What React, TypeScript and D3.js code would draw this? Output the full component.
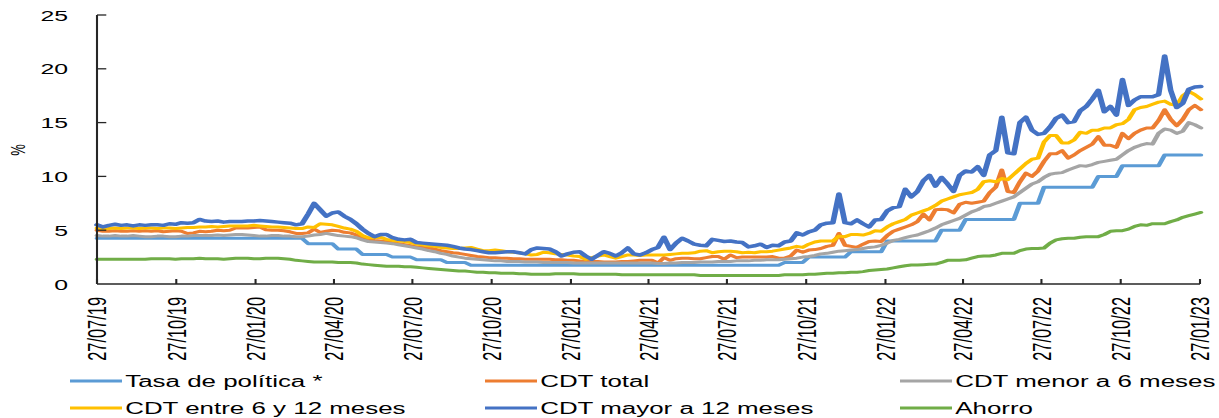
import React from 'react';
import * as d3 from 'd3';

// the source picture is stretched sideways, so we draw in a narrow box and stretch it
const S = 1.6;
const fullW = 1219;
const fullH = 418;
const vw = fullW / S;
const plot = { left: 97 / S, right: 1200 / S, top: 15, bottom: 284 };
const font = '"Liberation Sans", Arial, sans-serif';

const startDate = '27/07/19';
const xTickLabels = [
  '27/07/19', '27/10/19', '27/01/20', '27/04/20', '27/07/20', '27/10/20', '27/01/21', '27/04/21',
  '27/07/21', '27/10/21', '27/01/22', '27/04/22', '27/07/22', '27/10/22', '27/01/23',
];
const yTicks = [0, 5, 10, 15, 20, 25];

const tasaPolitica = [
  4.25, 4.25, 4.25, 4.25, 4.25, 4.25, 4.25, 4.25, 4.25, 4.25,
  4.25, 4.25, 4.25, 4.25, 4.25, 4.25, 4.25, 4.25, 4.25, 4.25,
  4.25, 4.25, 4.25, 4.25, 4.25, 4.25, 4.25, 4.25, 4.25, 4.25,
  4.25, 4.25, 4.25, 4.25, 4.25, 3.75, 3.75, 3.75, 3.75, 3.75,
  3.25, 3.25, 3.25, 3.25, 2.75, 2.75, 2.75, 2.75, 2.75, 2.5,
  2.5, 2.5, 2.5, 2.25, 2.25, 2.25, 2.25, 2.25, 2, 2,
  2, 2, 1.75, 1.75, 1.75, 1.75, 1.75, 1.75, 1.75, 1.75,
  1.75, 1.75, 1.75, 1.75, 1.75, 1.75, 1.75, 1.75, 1.75, 1.75,
  1.75, 1.75, 1.75, 1.75, 1.75, 1.75, 1.75, 1.75, 1.75, 1.75,
  1.75, 1.75, 1.75, 1.75, 1.75, 1.75, 1.75, 1.75, 1.75, 1.75,
  1.75, 1.75, 1.75, 1.75, 1.75, 1.75, 1.75, 1.75, 1.75, 1.75,
  1.75, 1.75, 1.75, 1.75, 2, 2, 2, 2, 2.5, 2.5,
  2.5, 2.5, 2.5, 2.5, 2.5, 3, 3, 3, 3, 3,
  3, 4, 4, 4, 4, 4, 4, 4, 4, 4,
  5, 5, 5, 5, 6, 6, 6, 6, 6, 6,
  6, 6, 6, 7.5, 7.5, 7.5, 7.5, 9, 9, 9,
  9, 9, 9, 9, 9, 9, 10, 10, 10, 10,
  11, 11, 11, 11, 11, 11, 11, 12, 12, 12,
  12, 12, 12, 12,
];

const cdtTotal = [
  5.0, 4.9, 4.9, 4.95, 4.9, 4.9, 4.95, 4.9, 4.95, 4.9,
  4.95, 4.85, 4.9, 4.95, 4.9, 4.7, 4.75, 4.9, 4.85, 4.9,
  5.0, 4.95, 5.0, 5.2, 5.2, 5.2, 5.25, 5.3, 5.05, 5.0,
  5.0, 4.95, 4.85, 4.7, 4.7, 4.75, 5.1, 4.8, 4.9, 5.0,
  4.95, 4.8, 4.75, 4.55, 4.3, 4.15, 4.05, 4.0, 3.95, 3.85,
  3.75, 3.65, 3.55, 3.45, 3.4, 3.35, 3.25, 3.1, 3.0, 2.9,
  2.85, 2.75, 2.65, 2.55, 2.5, 2.45, 2.45, 2.4, 2.4, 2.35,
  2.35, 2.3, 2.3, 2.3, 2.3, 2.3, 2.25, 2.25, 2.2, 2.2,
  2.15, 2.1, 2.1, 2.1, 2.05, 2.05, 2.05, 2.1, 2.1, 2.15,
  2.2, 2.2, 2.2, 1.95, 2.45, 2.2, 2.35, 2.4, 2.4, 2.35,
  2.35, 2.45, 2.55, 2.55, 2.3, 2.7, 2.45, 2.5, 2.5, 2.5,
  2.5, 2.5, 2.55, 2.4, 2.4, 2.6, 3.15, 2.95, 3.15, 3.2,
  3.3, 3.5, 3.6, 4.7, 3.6, 3.5, 3.4, 3.7, 3.95, 4.0,
  3.95, 4.5, 4.9, 5.1, 5.3, 5.5, 5.8, 6.5, 5.95, 6.9,
  6.95, 6.9, 6.6, 7.4, 7.6, 7.5, 7.6, 7.7, 8.5, 9.0,
  10.6, 8.6, 8.5, 9.5, 10.3, 10.0, 10.5, 11.4, 12.1, 12.1,
  12.4, 11.7, 12.0, 12.4, 12.7, 13.0, 13.7, 12.9, 12.9, 12.7,
  14.0, 13.5, 14.0, 14.3, 14.5, 14.5, 15.2, 16.2, 15.3, 14.7,
  15.3, 16.2, 16.6, 16.2,
];

const cdtMenor6 = [
  4.5, 4.45, 4.45, 4.5, 4.45, 4.45, 4.5, 4.45, 4.4, 4.4,
  4.45, 4.45, 4.4, 4.4, 4.45, 4.45, 4.5, 4.5, 4.5, 4.5,
  4.55, 4.5, 4.55, 4.6, 4.6, 4.55, 4.5, 4.45, 4.45, 4.5,
  4.5, 4.45, 4.45, 4.4, 4.4, 4.45, 4.55, 4.6, 4.7, 4.6,
  4.5, 4.45, 4.4, 4.3, 4.1, 3.95, 3.9, 3.85, 3.8, 3.75,
  3.65, 3.55, 3.45, 3.35, 3.25, 3.1, 3.0, 2.85, 2.75, 2.6,
  2.5, 2.4, 2.35, 2.3, 2.25, 2.2, 2.15, 2.15, 2.1, 2.1,
  2.1, 2.05, 2.05, 2.05, 2.0, 2.0, 2.0, 2.0, 2.0, 1.95,
  1.95, 1.95, 1.95, 1.95, 1.95, 1.95, 1.95, 1.95, 1.95, 1.95,
  1.95, 1.95, 1.95, 1.9, 1.9, 1.95, 1.95, 2.0, 2.0, 2.0,
  2.05, 2.05, 2.05, 2.1, 2.1, 2.1, 2.15, 2.15, 2.15, 2.2,
  2.2, 2.25, 2.25, 2.25, 2.3, 2.35, 2.4, 2.5, 2.55, 2.65,
  2.8, 2.85, 2.95, 3.05, 3.1, 3.15, 3.2, 3.3, 3.4, 3.45,
  3.6, 3.8, 4.05, 4.15, 4.3, 4.45, 4.55, 4.75, 4.95, 5.2,
  5.5, 5.7, 5.9, 6.1, 6.4, 6.7, 6.9, 7.2, 7.3, 7.5,
  7.7, 7.9, 8.1, 8.5, 8.9, 9.3, 9.5, 9.9, 10.2, 10.3,
  10.35, 10.6, 10.8, 11.0, 10.95, 11.1, 11.3, 11.4, 11.5, 11.6,
  12.0, 12.4, 12.7, 12.9, 13.05, 13.0, 14.0, 14.4, 14.3, 14.0,
  14.2, 15.0, 14.8, 14.5,
];

const cdtEntre6y12 = [
  5.2, 5.1, 5.15, 5.2, 5.15, 5.2, 5.2, 5.15, 5.2, 5.2,
  5.15, 5.2, 5.2, 5.15, 5.2, 5.25, 5.25, 5.3, 5.3, 5.35,
  5.3, 5.35, 5.4, 5.4, 5.4, 5.4, 5.45, 5.4, 5.35, 5.3,
  5.3, 5.25, 5.2, 5.15, 5.15, 5.3, 5.25, 5.6, 5.55, 5.5,
  5.35, 5.2, 5.1, 4.9, 4.5, 4.3, 4.3, 4.35, 4.15, 4.05,
  4.0, 3.95, 3.85, 3.7, 3.65, 3.55, 3.5, 3.4, 3.35, 3.3,
  3.3, 3.35, 3.4, 3.25, 3.1, 3.1, 3.15, 3.1, 3.0, 2.95,
  2.9, 2.8, 2.7, 2.75, 2.95, 2.9, 2.8, 2.75, 2.7, 2.6,
  2.55, 2.3, 2.45, 2.6, 2.7, 2.55, 2.4, 2.55, 2.7, 2.7,
  2.65, 2.7, 2.7, 2.7, 2.7, 2.75, 2.8, 2.85, 2.85, 2.9,
  3.05, 3.1, 2.9, 3.0, 3.05, 3.05, 3.0, 2.9, 2.95, 2.9,
  3.0, 3.0, 3.05, 3.15, 3.25, 3.35, 3.5, 3.4, 3.7, 3.9,
  4.0, 4.0, 4.0, 4.45, 4.4, 4.6, 4.6, 4.55, 4.7, 4.95,
  4.9, 5.3, 5.6, 5.8, 6.0, 6.4, 6.6, 6.8, 7.0, 7.3,
  7.7, 7.9, 8.1, 8.3, 8.4, 8.5, 8.8, 9.5, 9.6, 9.5,
  9.8, 9.7, 10.2, 10.7, 11.2, 11.6, 11.7, 13.2, 13.8, 13.8,
  13.1, 13.1, 13.4, 14.1, 14.0, 14.3, 14.3, 14.5, 14.5, 14.8,
  14.9, 15.3, 16.2, 16.4, 16.5, 16.7, 16.9, 17.0, 16.7, 16.6,
  17.5, 17.9, 17.6, 17.2,
];

const cdtMayor12 = [
  5.5, 5.3, 5.45, 5.55, 5.45, 5.5, 5.4, 5.5, 5.45, 5.5,
  5.5, 5.45, 5.6, 5.55, 5.7, 5.65, 5.7, 6.0, 5.85, 5.8,
  5.85, 5.75, 5.8, 5.8, 5.8, 5.85, 5.85, 5.9, 5.85, 5.8,
  5.75, 5.7, 5.65, 5.5, 5.6, 6.5, 7.5, 6.9, 6.3, 6.6,
  6.7, 6.3, 6.0, 5.6, 5.1, 4.7, 4.4, 4.6, 4.6, 4.3,
  4.15, 4.1, 4.15, 3.85, 3.8, 3.75, 3.7, 3.65, 3.6, 3.5,
  3.35, 3.25, 3.2, 3.1, 3.0, 2.9, 2.9, 2.95, 3.0, 3.0,
  2.9, 2.8, 3.2, 3.35, 3.3, 3.25, 3.0, 2.6, 2.8, 2.95,
  3.0, 2.6, 2.3, 2.65, 3.0, 2.85, 2.6, 2.9, 3.35, 2.8,
  2.7, 2.9, 3.2, 3.4, 4.35, 3.2, 3.8, 4.25, 4.0, 3.7,
  3.6, 3.55, 4.15, 4.05, 3.95, 4.0, 3.9, 3.85, 3.45, 3.55,
  3.7, 3.4, 3.6, 3.55, 3.9, 4.0, 4.75, 4.55, 4.85, 5.0,
  5.5, 5.65, 5.7, 8.36, 5.7, 5.6, 5.95, 5.6, 5.3, 5.95,
  6.0, 6.8, 7.1, 7.2, 8.8, 8.1, 8.6, 9.6, 10.1, 9.1,
  9.9, 9.3, 8.6, 10.1, 10.5, 10.4, 10.9, 10.1, 12.0, 12.4,
  15.5, 12.2, 12.1, 15.0, 15.5, 14.3, 13.9, 14.0, 14.6, 15.4,
  15.7, 15.0, 15.1, 16.1, 16.5, 17.2, 18.0, 16.0, 16.5, 15.7,
  19.0, 16.6, 17.1, 17.4, 17.4, 17.4, 17.6, 21.2, 18.0, 16.4,
  16.8, 18.1, 18.3, 18.35,
];

const ahorro = [
  2.3, 2.3, 2.3, 2.3, 2.3, 2.3, 2.3, 2.3, 2.3, 2.35,
  2.35, 2.35, 2.35, 2.3, 2.35, 2.35, 2.35, 2.4, 2.35, 2.35,
  2.35, 2.3, 2.35, 2.4, 2.4, 2.4, 2.35, 2.35, 2.4, 2.4,
  2.4, 2.35, 2.3, 2.2, 2.15, 2.1, 2.05, 2.05, 2.05, 2.05,
  2.0, 2.0, 2.0, 1.95, 1.85, 1.8, 1.75, 1.7, 1.65, 1.65,
  1.65, 1.6, 1.6, 1.55, 1.5, 1.45, 1.4, 1.35, 1.3, 1.25,
  1.2, 1.2, 1.15, 1.1, 1.1, 1.05, 1.05, 1.0, 1.0, 1.0,
  0.95, 0.95, 0.9, 0.9, 0.9, 0.9, 0.95, 0.95, 0.95, 0.95,
  0.9, 0.9, 0.9, 0.9, 0.9, 0.9, 0.9, 0.85, 0.85, 0.85,
  0.85, 0.85, 0.85, 0.85, 0.85, 0.85, 0.85, 0.85, 0.85, 0.85,
  0.8, 0.8, 0.8, 0.8, 0.8, 0.8, 0.8, 0.8, 0.8, 0.8,
  0.8, 0.8, 0.8, 0.8, 0.85, 0.85, 0.85, 0.85, 0.9, 0.9,
  0.95, 1.0, 1.0, 1.05, 1.05, 1.1, 1.1, 1.15, 1.25, 1.3,
  1.35, 1.4, 1.5, 1.6, 1.7, 1.77, 1.77, 1.8, 1.83, 1.85,
  2.0, 2.2, 2.2, 2.2, 2.25, 2.4, 2.55, 2.6, 2.6, 2.7,
  2.85, 2.85, 2.85, 3.1, 3.25, 3.3, 3.3, 3.35, 3.8, 4.1,
  4.2, 4.25, 4.25, 4.35, 4.4, 4.4, 4.4, 4.6, 4.9, 4.95,
  4.95, 5.1, 5.35, 5.5, 5.45, 5.6, 5.6, 5.6, 5.8, 5.95,
  6.2, 6.35, 6.5, 6.65,
];

const series = [
  { name: 'Tasa de política *', values: tasaPolitica, color: '#5b9bd5', w: 3 },
  { name: 'CDT total', values: cdtTotal, color: '#ed7d31', w: 3 },
  { name: 'CDT menor a 6 meses', values: cdtMenor6, color: '#a5a5a5', w: 3 },
  { name: 'CDT entre 6 y 12 meses', values: cdtEntre6y12, color: '#ffc000', w: 3 },
  { name: 'CDT mayor a 12 meses', values: cdtMayor12, color: '#4472c4', w: 3.5 },
  { name: 'Ahorro', values: ahorro, color: '#70ad47', w: 3 },
];

const parse = d3.timeParse('%d/%m/%y');
const start = parse(startDate) as Date;
const dates = cdtTotal.map((_, i) => d3.timeDay.offset(start, 7 * i));
const tickDates = xTickLabels.map(s => parse(s) as Date);

const x = d3.scaleTime()
  .domain([tickDates[0], tickDates[tickDates.length - 1]])
  .range([plot.left, plot.right]);
const y = d3.scaleLinear().domain([0, 25]).range([plot.bottom, plot.top]);

const line = d3.line<number>()
  .x((_, i) => x(dates[i]))
  .y(d => y(d));

// legend: 3 columns, 2 rows
const legendCols = [70 / S, 485 / S, 900 / S];
const legendRows = [381, 408];
const sampleLen = 52 / S;
const axisColor = '#262626';

export default function App() {
  return (
    <svg
      width={fullW}
      height={fullH}
      viewBox={`0 0 ${vw} ${fullH}`}
      preserveAspectRatio="none"
      style={{ position: 'absolute', left: 0, top: 0, background: '#fff' }}
    >
      <rect x={0} y={0} width={vw} height={fullH} fill="#fff" />

      {series.map(s => (
        <path
          key={s.name}
          d={line(s.values) || ''}
          fill="none"
          stroke={s.color}
          strokeWidth={s.w}
          strokeLinejoin="round"
          strokeLinecap="round"
        />
      ))}

      {/* y axis */}
      <line x1={plot.left} x2={plot.left} y1={plot.top} y2={plot.bottom} stroke={axisColor} strokeWidth={1.3} />
      {yTicks.map(t => (
        <g key={t}>
          {t > 0 && (
            <line x1={plot.left} x2={plot.left + 5.8} y1={y(t)} y2={y(t)} stroke={axisColor} strokeWidth={1.3} />
          )}
          <text
            x={68 / S}
            y={y(t)}
            dy="0.36em"
            textAnchor="end"
            fontFamily={font}
            fontSize={15.5}
            fill="#000"
          >
            {t}
          </text>
        </g>
      ))}
      <text
        transform={`translate(${18 / S},150) rotate(-90)`}
        textAnchor="middle"
        dy="0.36em"
        fontFamily={font}
        fontSize={13}
        fill="#000"
      >
        %
      </text>

      {/* x axis */}
      <line x1={plot.left} x2={plot.right} y1={plot.bottom} y2={plot.bottom} stroke={axisColor} strokeWidth={1.3} />
      {tickDates.map((d, i) => (
        <g key={xTickLabels[i]}>
          <line x1={x(d)} x2={x(d)} y1={plot.bottom} y2={plot.bottom - 5} stroke={axisColor} strokeWidth={1.3} />
          <text
            transform={`translate(${x(d)},297) rotate(-90)`}
            textAnchor="end"
            dy="0.36em"
            fontFamily={font}
            fontSize={16.4}
            fill="#000"
          >
            {xTickLabels[i]}
          </text>
        </g>
      ))}

      {/* legend */}
      {series.map((s, i) => {
        const lx = legendCols[i % 3];
        const ly = legendRows[Math.floor(i / 3)];
        return (
          <g key={'lg' + s.name}>
            <line x1={lx} x2={lx + sampleLen} y1={ly} y2={ly} stroke={s.color} strokeWidth={3} />
            <text
              x={lx + sampleLen + 2}
              y={ly}
              dy="0.36em"
              fontFamily={font}
              fontSize={16.2}
              fill="#000"
            >
              {s.name}
            </text>
          </g>
        );
      })}
    </svg>
  );
}
